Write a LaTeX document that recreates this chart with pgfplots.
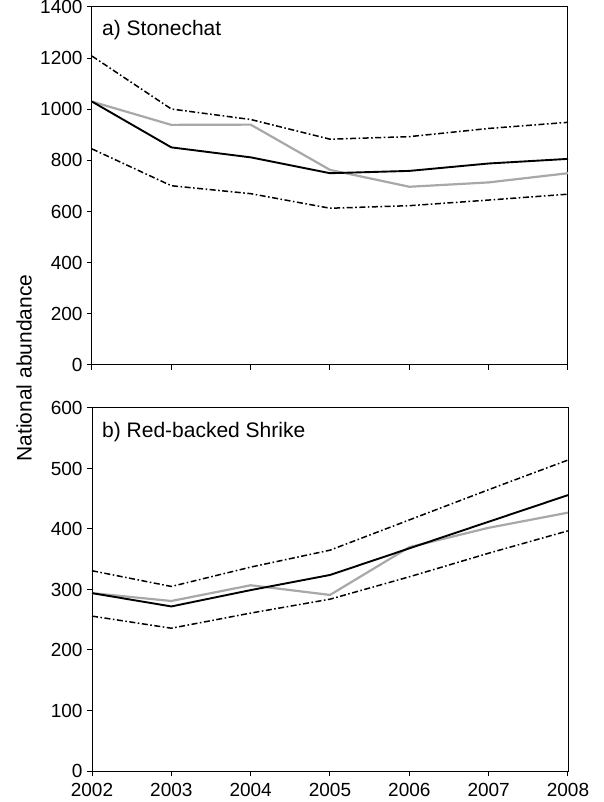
\documentclass[border=0pt]{standalone}
\usepackage{fontspec}
\setmainfont{Liberation Sans}
\usepackage{pgfplots}
\pgfplotsset{compat=1.18}
\definecolor{lightgrey}{HTML}{A8A8A8}

\pgfplotsset{
  panel/.style={
    scale only axis, width=476pt,
    xmin=2002, xmax=2008,
    xtick={2002,2003,...,2008},
    tick align=outside, major tick length=5pt,
    xtick pos=bottom, ytick pos=left,
    axis line style={black, line width=1pt},
    tick style={black, line width=1pt},
    /pgf/number format/assume math mode=true,
    /pgf/number format/1000 sep={},
    tick label style={font=\fontsize{19}{21}\selectfont},
    yticklabel style={xshift=-1pt},
    xticklabel style={yshift=-4pt},
    clip=false,
  },
  ci/.style={black, line width=1.5pt, dash pattern=on 6pt off 2.5pt on 1.6pt off 2.5pt},
  est/.style={black, line width=1.9pt},
  obs/.style={lightgrey, line width=2.2pt},
}

\begin{document}
\begin{tikzpicture}
\useasboundingbox (-92pt,-31pt) rectangle (511pt,771pt);

% b) Red-backed Shrike
\begin{axis}[panel, name=bot, at={(0pt,0pt)}, height=363pt,
  ymin=0, ymax=600, ytick={0,100,...,600}]
  \addplot[ci] coordinates {(2002,331) (2003,305) (2004,337) (2005,365) (2006,415) (2007,465) (2008,514)};
  \addplot[ci] coordinates {(2002,256) (2003,236) (2004,261) (2005,284) (2006,321) (2007,360) (2008,397)};
  \addplot[obs] coordinates {(2002,294) (2003,281) (2004,307) (2005,291) (2006,370) (2007,402) (2008,427)};
  \addplot[est] coordinates {(2002,294) (2003,272) (2004,299) (2005,324) (2006,368) (2007,412) (2008,456)};
\end{axis}
\node[anchor=north west, font=\fontsize{21}{23}\selectfont, inner sep=0pt] at (10pt,349pt) {b) Red-backed Shrike};

% a) Stonechat
\begin{axis}[panel, name=top, at={(0pt,406pt)}, height=358pt,
  ymin=0, ymax=1400, ytick={0,200,...,1400}, xticklabels={}]
  \addplot[ci] coordinates {(2002,1208) (2003,1001) (2004,960) (2005,883) (2006,893) (2007,925) (2008,949)};
  \addplot[ci] coordinates {(2002,845) (2003,701) (2004,670) (2005,613) (2006,623) (2007,645) (2008,668)};
  \addplot[obs] coordinates {(2002,1030) (2003,939) (2004,940) (2005,763) (2006,697) (2007,714) (2008,750)};
  \addplot[est] coordinates {(2002,1030) (2003,851) (2004,812) (2005,750) (2006,759) (2007,788) (2008,806)};
\end{axis}
\node[anchor=north west, font=\fontsize{21}{23}\selectfont, inner sep=0pt] at (10pt,751pt) {a) Stonechat};

\node[rotate=90, font=\fontsize{21}{23}\selectfont] at (-68pt,403pt) {National abundance};
\end{tikzpicture}
\end{document}
